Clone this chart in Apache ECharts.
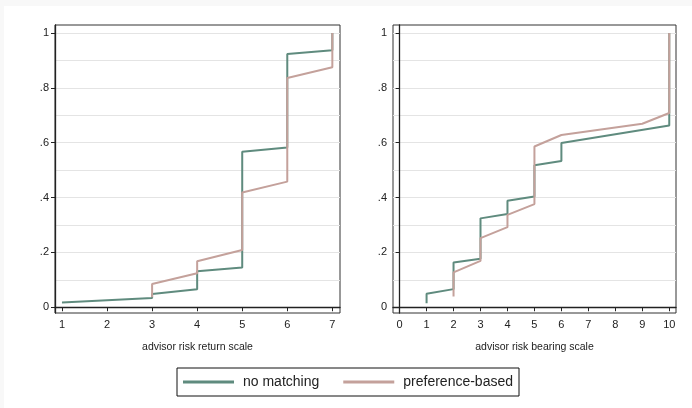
<!DOCTYPE html>
<html>
<head>
<meta charset="utf-8">
<script src="https://cdn.jsdelivr.net/npm/echarts@6/dist/echarts.min.js"></script>
<style>
  html, body { margin: 0; padding: 0; background: #f8f8f8; }
  #chart { width: 692px; height: 408px; }
</style>
</head>
<body>
<div id="chart"></div>
<script>
// left panel: advisor risk return scale
var returnNoMatch = [[1,0.017],[3,0.034],[3,0.048],[4,0.066],[4,0.131],[5,0.145],[5,0.567],[6,0.582],[6,0.923],[7,0.937],[7,1]];
var returnPref = [[3,0.036],[3,0.085],[4,0.124],[4,0.168],[5,0.209],[5,0.418],[6,0.458],[6,0.836],[7,0.875],[7,1]];
// right panel: advisor risk bearing scale
var bearingNoMatch = [[1,0.015],[1,0.049],[2,0.066],[2,0.163],[3,0.177],[3,0.324],[4,0.34],[4,0.388],[5,0.404],[5,0.518],[6,0.533],[6,0.599],[10,0.663],[10,1]];
var bearingPref = [[2,0.039],[2,0.127],[3,0.169],[3,0.252],[4,0.292],[4,0.337],[5,0.376],[5,0.586],[6,0.628],[9,0.669],[10,0.708],[10,1]];

var returnTicks = [1, 2, 3, 4, 5, 6, 7];
var bearingTicks = [0, 1, 2, 3, 4, 5, 6, 7, 8, 9, 10];
var yTicks = [0, 0.2, 0.4, 0.6, 0.8, 1];
var yGrid = [0, 0.1, 0.2, 0.3, 0.4, 0.5, 0.6, 0.7, 0.8, 0.9, 1];

var green = '#5f8b7e';
var pink = '#c4a19b';
var ink = '#222';
var font = 'Liberation Sans';

function xAx(idx, lo, hi, ticks, name) {
    return {
        type: 'value', gridIndex: idx, min: lo, max: hi,
        name: name, nameLocation: 'middle', nameGap: 29,
        nameTextStyle: { fontFamily: font, fontSize: 10.5, color: ink },
        splitLine: { show: false },
        axisLine: { show: true, lineStyle: { color: ink, width: 1.3 } },
        axisTick: { show: true, length: 4, customValues: ticks, lineStyle: { color: ink } },
        axisLabel: { customValues: ticks, margin: 6, fontFamily: font, fontSize: 11, color: ink }
    };
}
function yLab(idx) {
    return {
        type: 'value', gridIndex: idx, min: -0.021, max: 1.029,
        splitLine: { show: false },
        axisLine: { show: true, lineStyle: { color: ink, width: 1.3 } },
        axisTick: { show: true, length: 4, customValues: yTicks, lineStyle: { color: ink } },
        axisLabel: {
            customValues: yTicks, margin: 6, fontFamily: font, fontSize: 11, color: ink,
            formatter: function (v) {
                if (v === 0) return '0';
                if (v === 1) return '1';
                return String(+v.toFixed(1)).replace('0.', '.');
            }
        }
    };
}
function yGridAx(idx) {
    return {
        type: 'value', gridIndex: idx, min: -0.021, max: 1.029,
        axisLine: { show: false },
        axisLabel: { show: false },
        axisTick: { show: false, customValues: yGrid },
        splitLine: { show: true, lineStyle: { color: '#e4e4e4', width: 1 } }
    };
}
function line(name, data, xi, yi, color) {
    return {
        name: name, type: 'line', data: data, xAxisIndex: xi, yAxisIndex: yi,
        showSymbol: false, symbol: 'none', silent: true,
        lineStyle: { color: color, width: 2 }, itemStyle: { color: color }
    };
}

var chart = echarts.init(document.getElementById('chart'));
chart.setOption({
    animation: false,
    graphic: [{ type: 'rect', z: -100, shape: { x: 4, y: 6, width: 688, height: 402 }, style: { fill: '#fff' } }],
    grid: [
        { left: 55, top: 25, width: 285, height: 288, show: true, borderColor: '#333', borderWidth: 1 },
        { left: 393, top: 25, width: 283, height: 288, show: true, borderColor: '#333', borderWidth: 1 }
    ],
    xAxis: [
        xAx(0, 0.845, 7.17, returnTicks, 'advisor risk return scale'),
        xAx(1, -0.245, 10.25, bearingTicks, 'advisor risk bearing scale')
    ],
    yAxis: [yLab(0), yGridAx(0), yLab(1), yGridAx(1)],
    legend: {
        left: 177, top: 368,
        data: ['no matching', 'preference-based'],
        icon: 'rect', itemWidth: 51, itemHeight: 3, itemGap: 24,
        borderColor: '#111', borderWidth: 1, padding: [6, 6, 6, 6],
        textStyle: { fontFamily: font, fontSize: 14, color: ink, padding: [0, 0, 0, 4], lineHeight: 16 },
        selectedMode: false
    },
    series: [
        line('no matching', returnNoMatch, 0, 0, green),
        line('preference-based', returnPref, 0, 0, pink),
        line('no matching', bearingNoMatch, 1, 2, green),
        line('preference-based', bearingPref, 1, 2, pink)
    ]
});
</script>
</body>
</html>
